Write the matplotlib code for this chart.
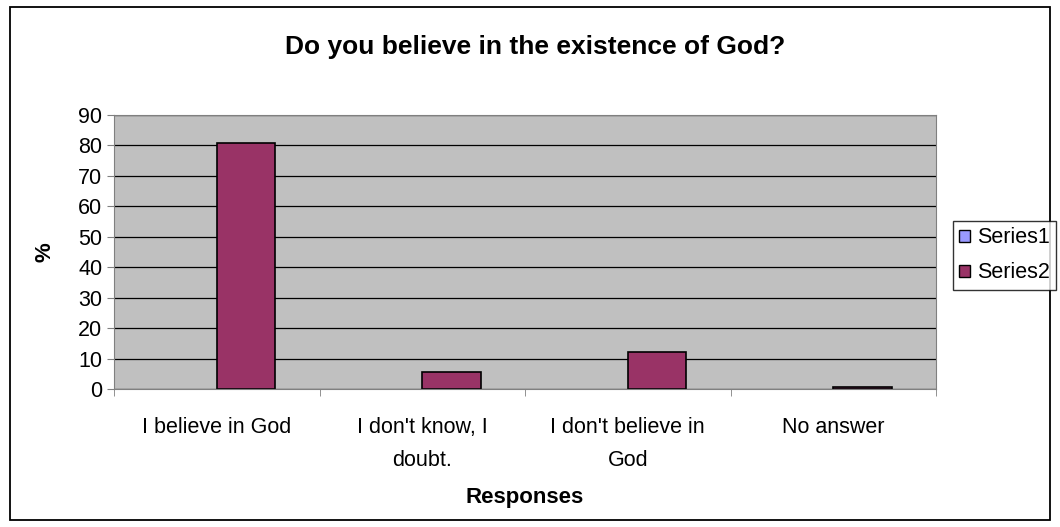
import matplotlib.pyplot as plt
import numpy as np
from matplotlib.patches import Rectangle, Patch

plt.rcParams['font.family'] = ['Liberation Sans', 'DejaVu Sans']

# Data
categories = ["I believe in God", "I don't know, I\ndoubt.", "I don't believe in\nGod", "No answer"]
series1 = [0, 0, 0, 0]
series2 = [80.8, 5.5, 12.3, 0.6]

W, H = 1060, 527
fig = plt.figure(figsize=(W / 100, H / 100), dpi=100)

# outer chart border
fig.patches.append(Rectangle((10 / W, 1 - 520 / H), 1040 / W, 513 / H, transform=fig.transFigure,
                             fill=False, edgecolor='black', linewidth=1.3))

left, right, top, bottom = 114, 936, 115, 389
ax = fig.add_axes([left / W, 1 - bottom / H, (right - left) / W, (bottom - top) / H])
ax.set_facecolor('#C0C0C0')

c1, c2 = '#9999FF', '#993366'
x = np.arange(len(categories))
w = 1 / 3.5
# series1 is all zeros: nothing visible
ax.bar(x - w / 2, series1, width=w, color=c1, linewidth=0)
ax.bar(x + w / 2, series2, width=w, color=c2, edgecolor='black', linewidth=1.2)

ax.set_xlim(-0.5, len(categories) - 0.5)
ax.set_ylim(0, 90)
ax.set_yticks(range(0, 91, 10))
ax.yaxis.grid(True, color='black', linewidth=0.9)
ax.set_axisbelow(True)

ax.set_xticks(x)
ax.set_xticklabels(categories, fontsize=15.5, linespacing=1.75)
ax.tick_params(axis='x', length=0, pad=20)
ax.set_xticks(np.arange(-0.5, len(categories) + 0.5, 1), minor=True)
ax.tick_params(axis='x', which='minor', length=5, direction='out', color='gray')
ax.tick_params(axis='y', labelsize=15.5, length=5, direction='out', color='gray')

for s in ax.spines.values():
    s.set_color('gray')

ax.set_xlabel('Responses', fontsize=16, fontweight='bold', labelpad=12)
ax.set_ylabel('%', fontsize=16, fontweight='bold', labelpad=16)

fig.text(0.5 + 0.005, 1 - 47 / H, 'Do you believe in the existence of God?', ha='center', va='center',
         fontsize=19, fontweight='bold')

handles = [Patch(facecolor=c1, edgecolor='black', linewidth=1.0),
           Patch(facecolor=c2, edgecolor='black', linewidth=1.0)]
leg = fig.legend(handles, ['Series1', 'Series2'], loc='upper left',
                 bbox_to_anchor=(953 / W, 1 - 221 / H), fontsize=15.5,
                 frameon=True, fancybox=False, edgecolor='black', handlelength=0.5,
                 handleheight=0.5, handletextpad=0.3, borderpad=0.3, labelspacing=0.65,
                 borderaxespad=0)
leg.get_frame().set_linewidth(1.0)

fig.savefig('out.png', dpi=100)
